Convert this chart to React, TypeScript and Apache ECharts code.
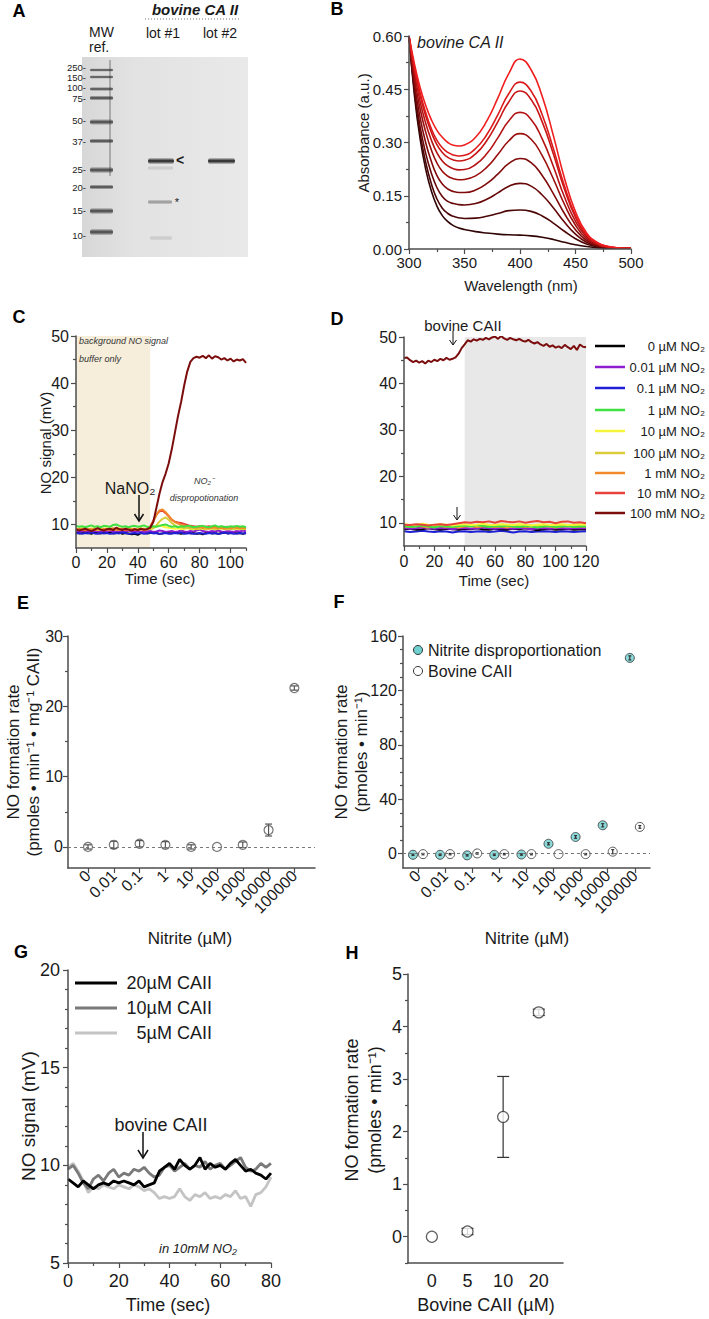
import React, { useEffect, useRef } from 'react';
import * as echarts from 'echarts';

const FONT = '"Liberation Sans", Arial, Helvetica, sans-serif';
const AXC = '#4d4d4d';
const TXT = '#1a1a1a';

// ---------- Panel B: absorbance spectra ----------
const wavelengths = [300, 305, 310, 315, 320, 325, 330, 335, 340, 345, 350, 360, 370, 380, 390, 400, 410, 420, 430, 440, 450, 460, 470, 480, 490, 500];
const spec1 = [0.60, 0.52, 0.455, 0.405, 0.365, 0.335, 0.315, 0.300, 0.292, 0.290, 0.293, 0.315, 0.360, 0.425, 0.495, 0.535, 0.505, 0.430, 0.320, 0.200, 0.105, 0.045, 0.018, 0.007, 0.003, 0.002];
const spec2 = [0.60, 0.51, 0.44, 0.385, 0.340, 0.307, 0.285, 0.272, 0.265, 0.262, 0.264, 0.283, 0.322, 0.378, 0.438, 0.470, 0.445, 0.378, 0.283, 0.178, 0.094, 0.040, 0.016, 0.006, 0.003, 0.002];
const spec3 = [0.60, 0.505, 0.432, 0.375, 0.330, 0.295, 0.272, 0.258, 0.251, 0.248, 0.250, 0.268, 0.305, 0.358, 0.415, 0.445, 0.421, 0.358, 0.268, 0.169, 0.089, 0.038, 0.015, 0.006, 0.003, 0.002];
const spec4 = [0.60, 0.495, 0.415, 0.355, 0.308, 0.272, 0.248, 0.234, 0.226, 0.223, 0.224, 0.238, 0.268, 0.313, 0.361, 0.385, 0.365, 0.310, 0.233, 0.147, 0.078, 0.034, 0.013, 0.005, 0.003, 0.002];
const spec5 = [0.60, 0.48, 0.395, 0.330, 0.280, 0.243, 0.219, 0.205, 0.198, 0.195, 0.196, 0.206, 0.230, 0.266, 0.305, 0.325, 0.309, 0.263, 0.198, 0.126, 0.067, 0.029, 0.012, 0.005, 0.003, 0.002];
const spec6 = [0.60, 0.465, 0.370, 0.300, 0.248, 0.208, 0.183, 0.169, 0.162, 0.159, 0.159, 0.166, 0.184, 0.211, 0.241, 0.255, 0.243, 0.207, 0.156, 0.100, 0.054, 0.024, 0.010, 0.004, 0.002, 0.002];
const spec7 = [0.60, 0.45, 0.345, 0.270, 0.215, 0.174, 0.148, 0.134, 0.128, 0.125, 0.124, 0.128, 0.140, 0.158, 0.177, 0.185, 0.177, 0.152, 0.116, 0.076, 0.042, 0.019, 0.008, 0.004, 0.002, 0.002];
const spec8 = [0.60, 0.44, 0.325, 0.245, 0.185, 0.142, 0.115, 0.100, 0.092, 0.088, 0.086, 0.087, 0.092, 0.100, 0.108, 0.110, 0.106, 0.093, 0.073, 0.050, 0.029, 0.014, 0.006, 0.003, 0.002, 0.002];
const spec9 = [0.60, 0.43, 0.31, 0.225, 0.165, 0.122, 0.094, 0.077, 0.066, 0.059, 0.055, 0.049, 0.045, 0.042, 0.040, 0.039, 0.037, 0.033, 0.027, 0.019, 0.012, 0.007, 0.004, 0.002, 0.002, 0.002];
const spectra = [spec1, spec2, spec3, spec4, spec5, spec6, spec7, spec8, spec9];
const specColors = ['#f01e1e', '#dc1a1a', '#c81616', '#b41212', '#9a0e0e', '#800a0a', '#660808', '#4c0606', '#300404'];

// ---------- Panels C / D: NO signal vs time ----------
const nitriteLabels = ['0 µM NO₂', '0.01 µM NO₂', '0.1 µM NO₂', '1 µM NO₂', '10 µM NO₂', '100 µM NO₂', '1 mM NO₂', '10 mM NO₂', '100 mM NO₂'];
const nitriteColors = ['#000000', '#8e1fd0', '#1f1fd6', '#3fe03f', '#f5f53a', '#d9cc3a', '#f28a2a', '#e8403a', '#7b0d0d'];

const tC = [0, 2, 4, 6, 8, 10, 12, 14, 16, 18, 20, 22, 24, 26, 28, 30, 32, 34, 36, 38, 40, 42, 44, 46, 48, 50, 52, 54, 56, 58, 60, 62, 64, 66, 68, 70, 72, 74, 76, 78, 80, 82, 84, 86, 88, 90, 92, 94, 96, 98, 100, 102, 104, 106, 108, 110];
const cBlack = [8.3, 8.1, 8.2, 8.4, 8.2, 8.0, 8.3, 8.2, 8.1, 8.3, 8.2, 8.4, 8.1, 8.2, 8.3, 8.0, 8.2, 8.1, 7.9, 8.0, 7.8, 8.2, 8.3, 8.1, 8.2, 8.4, 8.2, 8.0, 8.1, 8.3, 8.2, 8.1, 8.3, 8.2, 8.0, 8.2, 8.4, 8.1, 8.2, 8.0, 8.1, 7.9, 8.2, 8.3, 8.1, 8.2, 8.0, 8.2, 8.3, 8.1, 8.2, 8.3, 8.1, 8.2, 8.0, 8.2];
const cPurple = [8.6, 8.4, 8.5, 8.7, 8.5, 8.3, 8.6, 8.5, 8.4, 8.6, 8.5, 8.7, 8.4, 8.5, 8.6, 8.4, 8.5, 8.7, 8.5, 8.4, 8.6, 8.5, 8.3, 8.5, 8.6, 8.4, 8.5, 8.7, 8.6, 8.4, 8.5, 8.6, 8.4, 8.5, 8.7, 8.5, 8.4, 8.6, 8.5, 8.7, 8.9, 8.6, 8.5, 8.4, 8.6, 8.5, 8.7, 8.5, 8.4, 8.6, 8.5, 8.4, 8.6, 8.5, 8.7, 8.5];
const cBlue = [8.1, 8.2, 8.0, 8.2, 8.1, 8.3, 8.1, 8.0, 8.2, 8.1, 8.2, 8.0, 8.1, 8.2, 8.1, 8.3, 8.2, 8.0, 8.1, 8.2, 8.1, 8.2, 8.0, 8.1, 8.3, 8.1, 8.2, 8.0, 8.1, 8.2, 8.0, 8.1, 8.2, 8.1, 8.3, 8.0, 8.1, 8.2, 8.0, 8.1, 8.2, 8.1, 8.0, 8.2, 8.1, 8.2, 8.0, 8.1, 8.3, 8.1, 8.2, 8.0, 8.1, 8.2, 8.1, 8.2];
const cGreen = [9.7, 9.5, 9.6, 9.4, 9.6, 9.8, 9.5, 9.6, 9.4, 9.7, 9.6, 9.5, 9.9, 10.0, 9.7, 9.5, 9.6, 9.4, 9.6, 9.7, 9.5, 9.6, 9.8, 9.5, 9.4, 9.6, 9.5, 9.7, 9.9, 10.0, 9.7, 9.5, 9.6, 9.4, 9.6, 9.5, 9.7, 9.6, 9.4, 9.5, 9.6, 9.7, 9.5, 9.4, 9.6, 9.8, 9.5, 9.6, 9.5, 9.4, 9.6, 9.5, 9.7, 9.5, 9.6, 9.4];
const cYellow = [9.1, 9.0, 9.2, 9.1, 8.9, 9.1, 9.2, 9.0, 9.1, 9.0, 9.2, 9.1, 9.0, 9.1, 9.2, 9.0, 9.1, 8.9, 9.1, 9.0, 9.1, 9.2, 9.0, 9.1, 9.1, 9.3, 9.6, 9.8, 9.6, 9.4, 9.3, 9.2, 9.1, 9.2, 9.0, 9.1, 9.2, 9.1, 9.0, 9.1, 9.2, 9.1, 9.0, 9.1, 9.2, 9.0, 9.1, 9.2, 9.1, 9.0, 9.1, 9.2, 9.0, 9.1, 9.2, 9.1];
const cGold = [8.9, 9.0, 8.8, 9.0, 8.9, 9.1, 8.9, 8.8, 9.0, 8.9, 9.0, 8.9, 9.1, 8.9, 8.8, 9.0, 8.9, 9.1, 9.0, 8.8, 8.9, 9.0, 8.9, 9.1, 9.0, 9.2, 9.8, 10.6, 11.2, 11.5, 11.0, 10.3, 9.8, 9.5, 9.4, 9.2, 9.3, 9.1, 9.2, 9.0, 9.1, 9.2, 9.0, 9.1, 9.2, 9.0, 9.1, 9.2, 9.1, 9.0, 9.1, 9.0, 9.2, 9.1, 9.0, 9.1];
const cOrange = [9.0, 8.8, 9.1, 8.9, 9.0, 8.8, 9.1, 9.0, 8.9, 9.1, 8.9, 9.0, 9.2, 8.9, 9.0, 8.8, 9.1, 8.9, 9.0, 9.1, 8.9, 9.0, 9.1, 8.9, 9.4, 10.6, 12.0, 13.0, 13.2, 12.6, 11.8, 11.0, 10.5, 10.2, 9.9, 9.8, 9.6, 9.5, 9.4, 9.3, 9.5, 9.3, 9.4, 9.2, 9.3, 9.4, 9.2, 9.3, 9.1, 9.3, 9.2, 9.4, 9.3, 9.2, 9.3, 9.2];
const cRed = [8.8, 9.0, 8.9, 8.7, 9.0, 8.9, 8.8, 9.1, 8.9, 8.8, 9.0, 8.9, 8.8, 9.0, 8.9, 9.1, 8.8, 8.9, 9.0, 8.8, 8.9, 9.0, 8.8, 9.0, 9.5, 10.8, 12.1, 12.8, 12.9, 12.4, 11.7, 11.0, 10.6, 10.4, 10.3, 10.1, 9.9, 9.7, 9.6, 9.5, 9.6, 9.4, 9.5, 9.6, 9.4, 9.5, 9.3, 9.5, 9.4, 9.5, 9.3, 9.5, 9.4, 9.5, 9.3, 9.4];
const cDarkRed = [9.0, 8.7, 8.9, 9.1, 8.8, 8.6, 8.9, 9.2, 8.9, 8.7, 9.0, 9.1, 8.8, 9.3, 9.0, 8.8, 9.1, 8.9, 8.7, 9.0, 8.8, 9.1, 8.9, 9.0, 9.3, 10.5, 13.5, 16.5, 19.0, 20.8, 23.0, 26.0, 29.5, 33.0, 36.0, 39.5, 42.5, 44.5, 45.3, 45.6, 45.4, 45.8, 45.3, 45.9, 45.2, 45.7, 45.5, 45.0, 45.3, 44.8, 45.2, 44.6, 45.0, 44.8, 45.1, 44.3];
const cSeries = [cBlack, cPurple, cBlue, cGreen, cYellow, cGold, cOrange, cRed, cDarkRed];

const tD2 = [0, 2, 4, 6, 8, 10, 12, 14, 16, 18, 20, 22, 24, 26, 28, 30, 32, 34, 36, 38, 40, 42, 44, 46, 48, 50, 52, 54, 56, 58, 60, 62, 64, 66, 68, 70, 72, 74, 76, 78, 80, 82, 84, 86, 88, 90, 92, 94, 96, 98, 100, 102, 104, 106, 108, 110, 112, 114, 116, 118, 120];
const tD4 = [0, 4, 8, 12, 16, 20, 24, 28, 32, 36, 40, 44, 48, 52, 56, 60, 64, 68, 72, 76, 80, 84, 88, 92, 96, 100, 104, 108, 112, 116, 120];
const dBlack = [8.6, 8.7, 8.5, 8.6, 8.8, 8.6, 8.5, 8.7, 8.6, 8.5, 8.7, 8.6, 8.8, 8.6, 8.5, 8.7, 8.6, 8.5, 8.7, 8.6, 8.8, 8.6, 8.4, 8.6, 8.7, 8.5, 8.6, 8.7, 8.5, 8.6, 8.6];
const dPurple = [8.9, 8.7, 8.8, 9.0, 8.8, 8.7, 8.9, 8.8, 8.6, 8.8, 8.9, 8.7, 8.8, 9.0, 8.8, 8.7, 8.9, 8.8, 8.7, 8.9, 8.8, 8.6, 8.8, 8.9, 8.7, 8.8, 8.9, 8.7, 8.8, 8.9, 8.8];
const dBlue = [8.2, 8.0, 8.1, 8.3, 8.1, 8.0, 8.2, 8.1, 7.9, 8.1, 8.2, 8.0, 8.1, 8.2, 8.0, 8.1, 8.3, 8.1, 7.9, 8.1, 8.2, 8.0, 8.1, 8.2, 8.1, 8.0, 8.2, 8.1, 8.0, 8.1, 8.2];
const dGreen = [9.3, 9.1, 9.2, 9.4, 9.2, 9.0, 9.3, 9.2, 9.1, 9.3, 9.4, 9.2, 9.5, 9.3, 9.1, 9.3, 9.2, 9.4, 9.2, 9.1, 9.3, 9.2, 9.0, 9.2, 9.3, 9.1, 9.2, 9.3, 9.1, 9.2, 9.2];
const dYellow = [9.7, 9.5, 9.6, 9.8, 9.6, 9.5, 9.7, 9.6, 9.4, 9.6, 9.7, 9.5, 9.6, 9.8, 9.6, 9.5, 9.7, 9.6, 9.5, 9.7, 9.6, 9.4, 9.6, 9.7, 9.5, 9.6, 9.7, 9.5, 9.6, 9.7, 9.6];
const dGold = [9.4, 9.3, 9.5, 9.4, 9.2, 9.4, 9.5, 9.3, 9.4, 9.2, 9.4, 9.5, 9.3, 9.4, 9.5, 9.3, 9.4, 9.2, 9.4, 9.5, 9.3, 9.4, 9.3, 9.5, 9.4, 9.2, 9.4, 9.5, 9.3, 9.4, 9.4];
const dOrange = [9.2, 9.1, 9.3, 9.2, 9.0, 9.2, 9.3, 9.1, 9.2, 9.0, 9.2, 9.3, 9.1, 9.2, 9.3, 9.1, 9.2, 9.0, 9.2, 9.3, 9.1, 9.2, 9.1, 9.3, 9.2, 9.0, 9.2, 9.3, 9.1, 9.2, 9.2];
const dRed = [9.6, 9.5, 9.7, 9.6, 9.4, 9.6, 9.7, 9.5, 9.7, 9.9, 10.1, 10.0, 10.2, 10.1, 10.3, 10.0, 10.4, 10.2, 10.1, 10.3, 10.0, 10.2, 10.4, 10.1, 10.2, 9.9, 10.2, 10.3, 10.0, 10.1, 9.9];
const dDarkRed = [45.5, 45.6, 45.0, 44.6, 44.9, 44.5, 44.8, 44.3, 44.9, 44.6, 45.1, 44.8, 45.3, 45.0, 45.5, 45.1, 45.3, 45.6, 46.4, 47.6, 48.4, 49.3, 49.0, 49.5, 49.2, 49.6, 49.4, 49.8, 49.5, 49.9, 50.1, 49.6, 50.2, 49.7, 49.4, 49.8, 49.5, 49.3, 49.6, 49.2, 49.0, 49.4, 48.9, 48.6, 48.9, 48.4, 48.1, 48.5, 47.9, 48.2, 47.7, 48.0, 47.6, 48.3, 47.8, 47.4, 48.1, 47.2, 48.4, 47.9, 47.8];
const dBaselines = [dBlack, dPurple, dBlue, dGreen, dYellow, dGold, dOrange, dRed];

// ---------- Panels E / F: rates vs nitrite ----------
const nitriteCats = ['0', '0.01', '0.1', '1', '10', '100', '1000', '10000', '100000'];
const eVals = [0, 0.3, 0.45, 0.3, 0, 0, 0.3, 2.4, 22.6];
const eErr = [0.3, 0.5, 0.45, 0.45, 0.3, 0, 0.4, 0.85, 0.3];
const fDispVals = [-0.8, -0.8, -1.2, -0.8, -0.6, 7.3, 12.3, 20.9, 143.9];
const fDispErr = [0.5, 0.5, 0.5, 0.5, 0.5, 0.8, 1.0, 1.2, 1.5];
const fCaVals = [-0.3, -0.3, 0.2, -0.3, -0.3, -0.3, -0.3, 1.5, 19.7];
const fCaErr = [0.5, 0.5, 0.5, 0.5, 0.5, 0, 0.5, 1.5, 1.0];

// ---------- Panel G: NO signal traces ----------
const tG = [0, 2, 4, 6, 8, 10, 12, 14, 16, 18, 20, 22, 24, 26, 28, 30, 32, 34, 36, 38, 40, 42, 44, 46, 48, 50, 52, 54, 56, 58, 60, 62, 64, 66, 68, 70, 72, 74, 76, 78, 80];
const g20 = [9.3, 9.1, 8.9, 9.2, 9.0, 8.8, 9.0, 9.1, 9.0, 9.2, 9.1, 9.2, 9.1, 9.0, 9.2, 8.9, 9.0, 9.1, 9.7, 9.9, 10.1, 9.8, 10.3, 10.0, 9.8, 10.0, 10.4, 9.8, 10.1, 9.9, 10.0, 9.8, 10.1, 10.3, 10.0, 9.7, 9.8, 9.6, 9.5, 9.3, 9.6];
const g10 = [9.8, 10.0, 9.6, 9.1, 8.8, 9.3, 9.5, 9.2, 9.6, 9.8, 9.4, 9.6, 9.5, 9.8, 9.7, 9.9, 9.6, 9.4, 9.5, 9.9, 10.0, 9.7, 9.9, 10.1, 9.8, 10.0, 9.9, 10.2, 9.8, 10.0, 10.1, 9.8, 10.0, 10.2, 10.4, 9.9, 9.7, 9.8, 10.1, 9.9, 10.1];
const g5 = [9.9, 10.1, 9.7, 9.2, 8.6, 8.9, 8.8, 9.0, 8.9, 8.8, 9.0, 8.9, 8.8, 9.0, 8.9, 8.7, 8.8, 8.6, 8.3, 8.4, 8.3, 8.4, 8.8, 8.4, 8.2, 8.5, 8.4, 8.6, 8.3, 8.4, 8.3, 8.5, 8.4, 8.7, 8.3, 8.4, 7.9, 8.5, 8.6, 8.9, 9.4];
const gLabels = ['20µM CAII', '10µM CAII', '5µM CAII'];
const gColors = ['#000000', '#7a7a7a', '#c4c4c4'];

// ---------- Panel H ----------
const hCats = ['0', '5', '10', '20'];
const hVals = [0, 0.1, 2.28, 4.27];
const hErr = [0, 0.06, 0.77, 0.06];

// ---------- Gel (panel A) ----------
const mwLabels = ['250-', '150-', '100-', '75-', '50-', '37-', '25-', '20-', '15-', '10-'];

const pairs = (t: number[], v: number[]) => v.map((y, i) => [t[i], y]);

function buildOption() {
  const grids: any[] = [];
  const xAxes: any[] = [];
  const yAxes: any[] = [];
  const series: any[] = [];
  const graphic: any[] = [];

  const addGrid = (left: number, top: number, width: number, height: number) => {
    grids.push({ left, top, width, height, containLabel: false, outerBoundsMode: 'none' });
    return grids.length - 1;
  };

  const addAxis = (dim: 'x' | 'y', gi: number, min: number, max: number, major: number[], minor: number[], o: any) => {
    const list = dim === 'x' ? xAxes : yAxes;
    const position = dim === 'x' ? 'bottom' : 'left';
    const idx = list.length;
    list.push({
      type: 'value', gridIndex: gi, min, max, position,
      axisLine: { show: true, onZero: false, lineStyle: { color: AXC, width: 1.5 } },
      axisTick: { show: !o.noTick, customValues: major, length: 5, inside: false, lineStyle: { color: AXC, width: 1.2 } },
      axisLabel: {
        show: true, customValues: o.labels || major, formatter: o.fmt, fontSize: o.fs, fontFamily: FONT,
        color: TXT, margin: o.margin, rotate: o.rotate || 0,
      },
      splitLine: { show: false },
      z: 3,
    });
    if (minor.length) {
      list.push({
        type: 'value', gridIndex: gi, min, max, position,
        axisLine: { show: false, onZero: false },
        axisTick: { show: true, customValues: minor, length: 3, inside: false, lineStyle: { color: AXC, width: 1.2 } },
        axisLabel: { show: false },
        splitLine: { show: false },
        z: 3,
      });
    }
    return idx;
  };

  const errSeries = (xi: number, yi: number, vals: number[], errs: number[], offset: number, capW: number, color: string, z: number) => ({
    type: 'custom', xAxisIndex: xi, yAxisIndex: yi, z, silent: true,
    data: vals.map((v, i) => [i + offset, v - errs[i], v + errs[i]]),
    encode: { x: 0, y: [1, 2] },
    renderItem: (_p: any, api: any) => {
      const x = api.value(0), lo = api.value(1), hi = api.value(2);
      if (!(hi - lo > 0)) return { type: 'group', children: [] };
      const a = api.coord([x, lo]);
      const b = api.coord([x, hi]);
      const h = capW / 2;
      const st = { stroke: color, lineWidth: 1.2, fill: 'none' };
      return {
        type: 'group', children: [
          { type: 'line', shape: { x1: a[0], y1: a[1], x2: b[0], y2: b[1] }, style: st },
          { type: 'line', shape: { x1: a[0] - h, y1: a[1], x2: a[0] + h, y2: a[1] }, style: st },
          { type: 'line', shape: { x1: b[0] - h, y1: b[1], x2: b[0] + h, y2: b[1] }, style: st },
        ],
      };
    },
  });

  const txt = (x: number, y: number, text: string, fs: number, o: any = {}) => ({
    type: 'text', x, y, rotation: o.rot || 0, z: 20, silent: true,
    style: {
      text, fontSize: fs, fontFamily: FONT, fill: o.color || TXT,
      align: o.align || 'center', verticalAlign: 'middle',
      fontStyle: o.italic ? 'italic' : 'normal', fontWeight: o.bold ? 'bold' : 'normal',
    },
  });
  const arrowDown = (x: number, y1: number, y2: number, lw: number, hw: number, hh: number) => [
    { type: 'line', z: 20, silent: true, shape: { x1: x, y1, x2: x, y2: y2 - 0.5 }, style: { stroke: '#111', lineWidth: lw } },
    { type: 'polyline', z: 20, silent: true, shape: { points: [[x - hw, y2 - hh], [x, y2], [x + hw, y2 - hh]] }, style: { stroke: '#111', lineWidth: lw, fill: 'none' } },
  ];

  // ===== B =====
  const gB = addGrid(409, 36, 222, 213);
  const bx = addAxis('x', gB, 300, 500, [300, 350, 400, 450, 500], [325, 375, 425, 475], { fs: 15, margin: 6, fmt: (v: number) => String(v) });
  const by = addAxis('y', gB, 0, 0.6, [0, 0.15, 0.3, 0.45, 0.6], [0.075, 0.225, 0.375, 0.525], { fs: 15, margin: 7, fmt: (v: number) => v.toFixed(2) });
  for (let i = spectra.length - 1; i >= 0; i--) {
    series.push({
      type: 'line', xAxisIndex: bx, yAxisIndex: by, data: pairs(wavelengths, spectra[i]),
      smooth: 0.5, showSymbol: false, symbol: 'none', silent: true,
      lineStyle: { color: specColors[i], width: 1.6 }, z: 2,
    });
  }

  // ===== C =====
  const gC = addGrid(76, 336, 170, 212);
  const cx = addAxis('x', gC, 0, 110, [0, 20, 40, 60, 80, 100], [10, 30, 50, 70, 90, 110], { fs: 16, margin: 6, fmt: (v: number) => String(v) });
  const cy = addAxis('y', gC, 5, 50, [10, 20, 30, 40, 50], [15, 25, 35, 45], { fs: 16, margin: 7, fmt: (v: number) => String(v) });
  series.push({
    type: 'line', xAxisIndex: cx, yAxisIndex: cy, data: [[0, 5]], showSymbol: false, symbol: 'none', silent: true,
    lineStyle: { width: 0 }, z: 1,
    markArea: { silent: true, itemStyle: { color: '#f6eedb' }, data: [[{ xAxis: 0, yAxis: 5 }, { xAxis: 48, yAxis: 50 }]] },
  });
  const cOrder = [0, 1, 2, 4, 5, 7, 6, 3, 8];
  cOrder.forEach((k) => {
    series.push({
      type: 'line', xAxisIndex: cx, yAxisIndex: cy, data: pairs(tC, cSeries[k]),
      showSymbol: false, symbol: 'none', silent: true, lineStyle: { color: nitriteColors[k], width: 2 }, z: 2,
    });
  });

  // ===== D =====
  const gD = addGrid(404, 337, 182, 209);
  const dx = addAxis('x', gD, 0, 120, [0, 20, 40, 60, 80, 100, 120], [10, 30, 50, 70, 90, 110], { fs: 16, margin: 7, fmt: (v: number) => String(v) });
  const dy = addAxis('y', gD, 5, 50, [10, 20, 30, 40, 50], [15, 25, 35, 45], { fs: 16, margin: 7, fmt: (v: number) => String(v) });
  series.push({
    type: 'line', xAxisIndex: dx, yAxisIndex: dy, data: [[0, 5]], showSymbol: false, symbol: 'none', silent: true,
    lineStyle: { width: 0 }, z: 1,
    markArea: { silent: true, itemStyle: { color: '#e8e8e8' }, data: [[{ xAxis: 40, yAxis: 5 }, { xAxis: 120, yAxis: 50 }]] },
  });
  const dOrder = [2, 0, 1, 6, 5, 3, 4, 7];
  dOrder.forEach((k) => {
    series.push({
      type: 'line', xAxisIndex: dx, yAxisIndex: dy, data: pairs(tD4, dBaselines[k]),
      showSymbol: false, symbol: 'none', silent: true, lineStyle: { color: nitriteColors[k], width: 2 }, z: 2,
    });
  });
  series.push({
    type: 'line', xAxisIndex: dx, yAxisIndex: dy, data: pairs(tD2, dDarkRed),
    showSymbol: false, symbol: 'none', silent: true, lineStyle: { color: nitriteColors[8], width: 2 }, z: 2,
  });

  // ===== E =====
  const gE = addGrid(68, 636, 247, 232);
  const catIdx = [0, 1, 2, 3, 4, 5, 6, 7, 8];
  const ex = addAxis('x', gE, -0.775, 8.8, catIdx, [], { fs: 16, margin: 5, rotate: 45, fmt: (v: number) => nitriteCats[Math.round(v)] });
  const ey = addAxis('y', gE, -3, 30, [0, 10, 20, 30], [5, 15, 25], { fs: 16, margin: 5, fmt: (v: number) => String(v) });
  series.push({
    type: 'scatter', xAxisIndex: ex, yAxisIndex: ey, data: eVals.map((v, i) => [i, v]), symbol: 'circle', symbolSize: 9, silent: true,
    itemStyle: { color: 'rgba(255,255,255,0)', borderColor: '#555', borderWidth: 1.2 }, z: 3,
    markLine: { silent: true, symbol: 'none', label: { show: false }, lineStyle: { type: [3, 3], color: '#777', width: 1 }, data: [{ yAxis: 0 }] },
  });
  series.push(errSeries(ex, ey, eVals, eErr, 0, 7, '#555', 4));

  // ===== F =====
  const gF = addGrid(403, 636, 247, 232);
  const fx = addAxis('x', gF, -0.553, 8.56, catIdx, [], { fs: 16, margin: 5, rotate: 45, fmt: (v: number) => nitriteCats[Math.round(v)] });
  const fy = addAxis('y', gF, -10.5, 160, [0, 40, 80, 120, 160], [10, 20, 30, 50, 60, 70, 90, 100, 110, 130, 140, 150], { fs: 16, margin: 6, fmt: (v: number) => String(v) });
  const F_OFF = 0.185;
  series.push({
    type: 'scatter', xAxisIndex: fx, yAxisIndex: fy, data: fDispVals.map((v, i) => [i - F_OFF, v]), symbol: 'circle', symbolSize: 9, silent: true,
    itemStyle: { color: '#6fd0d0', borderColor: '#333', borderWidth: 1 }, z: 3,
    markLine: { silent: true, symbol: 'none', label: { show: false }, lineStyle: { type: [3, 3], color: '#777', width: 1 }, data: [{ yAxis: 0 }] },
  });
  series.push({
    type: 'scatter', xAxisIndex: fx, yAxisIndex: fy, data: fCaVals.map((v, i) => [i + F_OFF, v]), symbol: 'circle', symbolSize: 9, silent: true,
    itemStyle: { color: '#ffffff', borderColor: '#333', borderWidth: 1 }, z: 3,
  });
  series.push(errSeries(fx, fy, fDispVals, fDispErr, -F_OFF, 3, '#333', 4));
  series.push(errSeries(fx, fy, fCaVals, fCaErr, F_OFF, 3, '#333', 4));

  // ===== G =====
  const gG = addGrid(68, 970, 203, 293);
  const gx = addAxis('x', gG, 0, 80, [0, 20, 40, 60, 80], [10, 30, 50, 70], { fs: 18, margin: 9, fmt: (v: number) => String(v) });
  const gy = addAxis('y', gG, 5, 20, [5, 10, 15, 20], [6, 7, 8, 9, 11, 12, 13, 14, 16, 17, 18, 19], { fs: 18, margin: 8, fmt: (v: number) => String(v) });
  [g5, g10, g20].forEach((arr, j) => {
    const k = 2 - j;
    series.push({
      type: 'line', xAxisIndex: gx, yAxisIndex: gy, data: pairs(tG, arr),
      showSymbol: false, symbol: 'none', silent: true, lineStyle: { color: gColors[k], width: 2.8 }, z: 2,
    });
  });

  // ===== H =====
  const gH = addGrid(408, 974, 155, 289);
  const hx = addAxis('x', gH, -0.67, 3.68, [0, 1, 2, 3], [], { fs: 18, margin: 9, noTick: true, fmt: (v: number) => hCats[Math.round(v)] });
  const hy = addAxis('y', gH, -0.5, 5, [0, 1, 2, 3, 4, 5], [-0.5, 0.5, 1.5, 2.5, 3.5, 4.5], { fs: 18, margin: 6, fmt: (v: number) => String(v) });
  series.push(errSeries(hx, hy, hVals, hErr, 0, 12, '#333', 2));
  series.push({
    type: 'scatter', xAxisIndex: hx, yAxisIndex: hy, data: hVals.map((v, i) => [i, v]), symbol: 'circle', symbolSize: 11, silent: true,
    itemStyle: { color: '#ffffff', borderColor: '#333', borderWidth: 1.2 }, z: 3,
  });

  // ===== Graphic: panel letters =====
  const letters: [string, number, number][] = [['A', 19, 11], ['B', 337, 9], ['C', 19, 317], ['D', 337, 319], ['E', 23, 603], ['F', 339, 602], ['G', 21, 952], ['H', 352, 953]];
  letters.forEach(([l, x, y]) => graphic.push(txt(x, y, l, 18, { bold: true, color: '#000' })));

  // ===== Panel A: gel =====
  graphic.push({
    type: 'rect', silent: true, z: 5, shape: { x: 82, y: 57, width: 166, height: 200 },
    style: { fill: new echarts.graphic.LinearGradient(0, 0, 1, 0, [{ offset: 0, color: '#d7d7d7' }, { offset: 0.3, color: '#e2e2e2' }, { offset: 1, color: '#e9e9e9' }]) },
  });
  const band = (x: number, y: number, w: number, h: number, color: string) => ({
    type: 'rect', silent: true, z: 6, shape: { x, y: y - h / 2, width: w, height: h, r: h / 2 },
    style: { fill: new echarts.graphic.LinearGradient(0, 0, 0, 1, [{ offset: 0, color: 'rgba(0,0,0,0)' }, { offset: 0.5, color }, { offset: 1, color: 'rgba(0,0,0,0)' }]) },
  });
  const ladderY = [70, 77, 89, 98, 122, 141, 170, 187, 211, 232];
  const ladderH = [3.5, 3.5, 4, 5, 6, 5, 6.5, 5, 6.5, 7];
  ladderY.forEach((y, i) => graphic.push(band(90, y, 23, ladderH[i], 'rgba(40,40,40,0.85)')));
  graphic.push({ type: 'line', silent: true, z: 6, shape: { x1: 110, y1: 60, x2: 110, y2: 176 }, style: { stroke: 'rgba(50,50,50,0.6)', lineWidth: 1 } });
  graphic.push(band(148, 161, 26, 7, 'rgba(20,20,20,0.95)'));
  graphic.push(band(148, 168, 25, 5, 'rgba(90,90,90,0.18)'));
  graphic.push(band(148, 202, 24, 5, 'rgba(80,80,80,0.5)'));
  graphic.push(band(150, 238, 22, 5, 'rgba(120,120,120,0.22)'));
  graphic.push(band(208, 161, 27, 7, 'rgba(20,20,20,0.95)'));
  const mwY = [67, 77, 87, 98, 120, 141, 169, 187, 210, 235];
  mwLabels.forEach((l, i) => graphic.push(txt(86, mwY[i], l, 9.5, { align: 'right', color: '#222' })));
  graphic.push(txt(89, 32, 'MW', 14, { align: 'left' }));
  graphic.push(txt(89, 47, 'ref.', 14, { align: 'left' }));
  graphic.push(txt(163, 33, 'lot #1', 14));
  graphic.push(txt(220, 33, 'lot #2', 14));
  graphic.push(txt(195, 9, 'bovine CA II', 15, { bold: true, italic: true }));
  graphic.push({ type: 'line', silent: true, z: 20, shape: { x1: 145, y1: 19, x2: 239, y2: 19 }, style: { stroke: '#777', lineWidth: 1, lineDash: [1, 2] } });
  graphic.push(txt(180, 160, '<', 14, { bold: true }));
  graphic.push(txt(177, 202, '*', 11));

  // ===== Panel B texts =====
  graphic.push(txt(417, 42, 'bovine CA II', 16, { align: 'left', italic: true }));
  graphic.push(txt(363, 133, 'Absorbance (a.u.)', 15, { rot: Math.PI / 2 }));
  graphic.push(txt(521, 285, 'Wavelength (nm)', 15));

  // ===== Panel C texts =====
  graphic.push(txt(45, 443, 'NO signal (mV)', 15, { rot: Math.PI / 2 }));
  graphic.push(txt(160, 578, 'Time (sec)', 15));
  graphic.push(txt(79, 341, 'background NO signal', 9, { align: 'left', italic: true, color: '#333' }));
  graphic.push(txt(79, 359, 'buffer only', 9, { align: 'left', italic: true, color: '#333' }));
  graphic.push(txt(130, 488, 'NaNO₂', 16));
  arrowDown(139, 495, 521, 1.5, 4.5, 7).forEach((g) => graphic.push(g));
  graphic.push(txt(204, 481, 'NO₂⁻', 9, { italic: true, color: '#333' }));
  graphic.push(txt(204, 498, 'dispropotionation', 9, { italic: true, color: '#333' }));

  // ===== Panel D texts & legend =====
  graphic.push(txt(494, 580, 'Time (sec)', 15));
  graphic.push(txt(463, 325, 'bovine CAII', 15));
  arrowDown(453, 331, 345, 1, 3.5, 5).forEach((g) => graphic.push(g));
  arrowDown(457, 507, 520, 1, 3.5, 5).forEach((g) => graphic.push(g));
  const dLegY = [346, 367, 388, 410, 431, 453, 473, 493, 513];
  nitriteLabels.forEach((l, i) => {
    graphic.push({ type: 'line', silent: true, z: 20, shape: { x1: 595, y1: dLegY[i], x2: 625, y2: dLegY[i] }, style: { stroke: nitriteColors[i], lineWidth: 2.5 } });
    graphic.push(txt(705, dLegY[i], l, 13, { align: 'right' }));
  });

  // ===== Panel E / F texts =====
  graphic.push(txt(13, 752, 'NO formation rate', 17, { rot: Math.PI / 2 }));
  graphic.push(txt(33, 752, '(pmoles • min⁻¹ • mg⁻¹ CAII)', 17, { rot: Math.PI / 2 }));
  graphic.push(txt(190, 938, 'Nitrite (µM)', 17));
  graphic.push(txt(341, 752, 'NO formation rate', 17, { rot: Math.PI / 2 }));
  graphic.push(txt(361, 752, '(pmoles • min⁻¹)', 17, { rot: Math.PI / 2 }));
  graphic.push(txt(527, 938, 'Nitrite (µM)', 17));
  graphic.push({ type: 'circle', silent: true, z: 20, shape: { cx: 418, cy: 650, r: 4.5 }, style: { fill: '#6fd0d0', stroke: '#333', lineWidth: 1 } });
  graphic.push(txt(428, 650, 'Nitrite disproportionation', 16, { align: 'left' }));
  graphic.push({ type: 'circle', silent: true, z: 20, shape: { cx: 418, cy: 671, r: 4.5 }, style: { fill: '#fff', stroke: '#333', lineWidth: 1 } });
  graphic.push(txt(428, 671, 'Bovine CAII', 16, { align: 'left' }));

  // ===== Panel G texts & legend =====
  graphic.push(txt(28, 1116, 'NO signal (mV)', 19, { rot: Math.PI / 2 }));
  graphic.push(txt(168, 1305, 'Time (sec)', 18));
  graphic.push(txt(161, 1125, 'bovine CAII', 18));
  arrowDown(143, 1132, 1158, 1.5, 5, 8).forEach((g) => graphic.push(g));
  graphic.push(txt(198, 1248, 'in 10mM NO₂', 13, { italic: true }));
  const gLegY = [983, 1008, 1033];
  gLabels.forEach((l, i) => {
    graphic.push({ type: 'line', silent: true, z: 20, shape: { x1: 75, y1: gLegY[i], x2: 117, y2: gLegY[i] }, style: { stroke: gColors[i], lineWidth: 3 } });
    graphic.push(txt(212, gLegY[i], l, 18, { align: 'right' }));
  });

  // ===== Panel H texts =====
  graphic.push(txt(352, 1110, 'NO formation rate', 18, { rot: Math.PI / 2 }));
  graphic.push(txt(375, 1110, '(pmoles • min⁻¹)', 18, { rot: Math.PI / 2 }));
  graphic.push(txt(486, 1305, 'Bovine CAII (µM)', 18));

  return {
    animation: false,
    backgroundColor: '#ffffff',
    textStyle: { fontFamily: FONT },
    grid: grids,
    xAxis: xAxes,
    yAxis: yAxes,
    series,
    graphic,
  };
}

export default function App() {
  const ref = useRef<HTMLDivElement>(null);
  useEffect(() => {
    if (!ref.current) return;
    const chart = echarts.init(ref.current, null, { renderer: 'svg' });
    chart.setOption(buildOption() as any);
    return () => chart.dispose();
  }, []);
  return <div ref={ref} style={{ position: 'absolute', left: 0, top: 0, width: 709, height: 1319, background: '#fff' }} />;
}
